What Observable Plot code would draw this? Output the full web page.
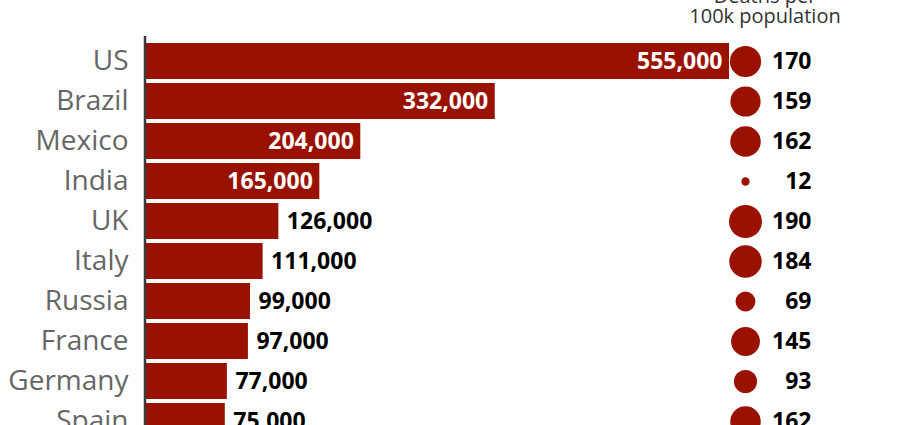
<!DOCTYPE html>
<html>
<head>
<meta charset="utf-8">
<script src="https://cdn.jsdelivr.net/npm/d3@7"></script>
<script src="https://cdn.jsdelivr.net/npm/@observablehq/plot@0.6"></script>
<style>
  html, body { margin: 0; padding: 0; background: #fff; overflow: hidden; }
  #wrap { position: relative; width: 920px; height: 425px; overflow: hidden; }
  #head { position: absolute; top: -14px; left: 645px; width: 240px; text-align: center;
          font-family: "Open Sans", sans-serif; font-size: 20px; line-height: 20px; color: #333; }
  #chart svg { display: block; }
</style>
</head>
<body>
<div id="wrap">
  <div id="chart"></div>
  <div id="head">Deaths per<br>100k population</div>
</div>
<script>
const countries = ["US","Brazil","Mexico","India","UK","Italy","Russia","France","Germany","Spain"];
const deaths = [555000,332000,204000,165000,126000,111000,99000,97000,77000,75000];
const rates = [170,159,162,12,190,184,69,145,93,162];
const insideThreshold = 150000;

const data = countries.map((c, i) => ({country: c, deaths: deaths[i], rate: rates[i]}));
const fmt = d3.format(",");
const red = "#991200";
const font = "Open Sans, sans-serif";

const plot = Plot.plot({
  width: 920,
  height: 425,
  marginLeft: 146,
  marginRight: 175,
  marginTop: 36,
  marginBottom: 0,
  style: {fontFamily: font, background: "#fff"},
  x: {domain: [0, 555000], range: [146, 729], axis: null},
  y: {domain: countries, range: [41, 441], paddingInner: 0.1, paddingOuter: 0.05, label: null},
  r: {domain: [0, 190], range: [0, 16.5]},
  marks: [
    Plot.barX(data, {y: "country", x: "deaths", fill: red}),
    Plot.ruleX([0], {stroke: "#3c3c3c", strokeWidth: 2.5, dx: -1.5}),
    Plot.axisY({tickSize: 0, tickPadding: 18, fontSize: 28, fill: "#666", textStroke: "none", label: null}),
    Plot.text(data.filter(d => d.deaths > insideThreshold), {
      y: "country", x: "deaths", text: d => fmt(d.deaths), textAnchor: "end", dx: -7,
      fill: "#fff", fontSize: 23, fontWeight: "bold"
    }),
    Plot.text(data.filter(d => d.deaths <= insideThreshold), {
      y: "country", x: "deaths", text: d => fmt(d.deaths), textAnchor: "start", dx: 8,
      fill: "#000", fontSize: 23, fontWeight: "bold"
    }),
    Plot.dot(data, {y: "country", r: "rate", fill: red, frameAnchor: "right"}),
    Plot.text(data, {
      y: "country", text: d => String(d.rate), frameAnchor: "right", textAnchor: "end", dx: 66,
      fill: "#000", fontSize: 23, fontWeight: "bold"
    })
  ]
});
document.getElementById("chart").appendChild(plot);
</script>
</body>
</html>
